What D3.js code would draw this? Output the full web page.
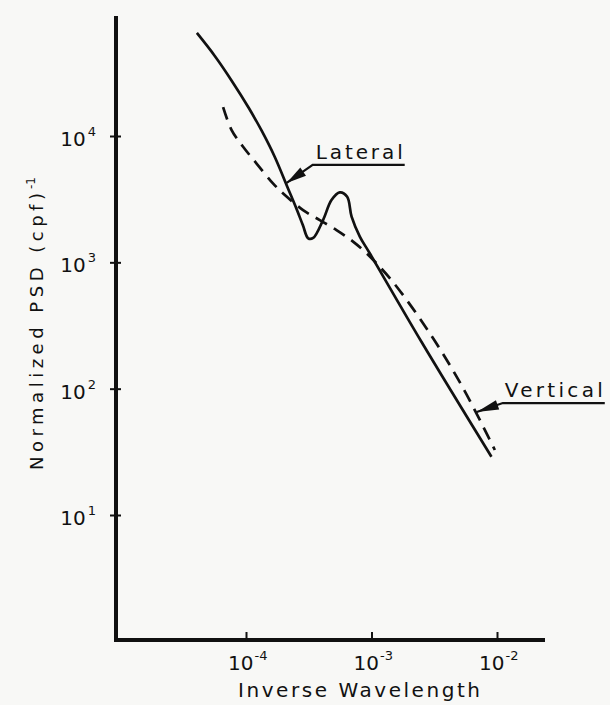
<!DOCTYPE html>
<html>
<head>
<meta charset="utf-8">
<script src="https://cdn.jsdelivr.net/npm/d3@7"></script>
<style>
  html, body { margin: 0; padding: 0; background: #f8f8f6; }
  svg { display: block; }
  text { font-family: "DejaVu Sans", sans-serif; fill: #111; }
</style>
</head>
<body>
<svg id="chart" width="610" height="705"></svg>
<script>
// Lateral spectrum (solid)
const lateralX = [4.06e-5, 5.64e-5, 7.71e-5, 1.053e-4, 1.336e-4, 1.696e-4, 2.153e-4, 2.493e-4, 2.836e-4, 3.13e-4,
                  3.43e-4, 4.11e-4, 4.80e-4, 5.58e-4, 6.40e-4, 6.94e-4, 8.07e-4, 9.68e-4, 2.50e-3, 9.03e-3];
const lateralY = [6.54e4, 4.30e4, 2.73e4, 1.667e4, 1.096e4, 6.82e3, 3.88e3, 2.74e3, 1.974e3, 1.55e3,
                  1.56e3, 2.16e3, 3.11e3, 3.58e3, 3.30e3, 2.30e3, 1.60e3, 1.18e3, 235, 28.9];

// Vertical spectrum (dashed)
const verticalX = [6.57e-5, 7.66e-5, 9.48e-5, 1.21e-4, 1.64e-4, 2.04e-4, 2.85e-4, 3.87e-4, 5.26e-4, 7.13e-4,
                   9.12e-4, 1.44e-3, 2.91e-3, 5.37e-3, 9.61e-3];
const verticalY = [1.69e4, 1.12e4, 8.22e3, 6.08e3, 4.22e3, 3.41e3, 2.59e3, 2.16e3, 1.80e3, 1.46e3,
                   1.18e3, 724, 275, 101, 32.7];

// Axis ticks
const xTickValues = [1e-4, 1e-3, 1e-2];
const xTickExponents = ["-4", "-3", "-2"];
const yTickValues = [1e1, 1e2, 1e3, 1e4];
const yTickExponents = ["1", "2", "3", "4"];

// Titles and series labels
const xTitle = "Inverse Wavelength";
const yTitle = "Normalized PSD (cpf)";
const yTitleExponent = "-1";
const seriesNames = ["Lateral", "Vertical"];
// Points on each curve that the label arrows touch
const lateralPointer = [2.11e-4, 4.25e3];
const verticalPointer = [6.90e-3, 65.3];

const svg = d3.select("#chart");
const ink = "#111";

const x = d3.scaleLog().domain([1e-4, 1e-2]).range([246, 497]);
const y = d3.scaleLog().domain([1e1, 1e4]).range([515, 136]);

const frame = { left: 116, top: 16, bottom: 640, right: 545 };

// Frame (heavy axis lines)
svg.append("path")
  .attr("d", `M${frame.left},${frame.top} L${frame.left},${frame.bottom} L${frame.right},${frame.bottom}`)
  .attr("fill", "none").attr("stroke", ink).attr("stroke-width", 4)
  .attr("stroke-linejoin", "miter");

// Y axis ticks (crossing the axis line)
const yAxis = svg.append("g")
  .attr("transform", `translate(${frame.left},0)`)
  .call(d3.axisLeft(y).tickValues(yTickValues).tickSizeOuter(0).tickSizeInner(6).tickFormat(() => ""));
yAxis.select(".domain").remove();
yAxis.selectAll(".tick line").attr("x1", 5).attr("stroke", ink).attr("stroke-width", 2);

// X axis ticks (pointing up from the axis)
const xAxis = svg.append("g")
  .attr("transform", `translate(0,${frame.bottom})`)
  .call(d3.axisTop(x).tickValues(xTickValues).tickSizeOuter(0).tickSizeInner(8).tickFormat(() => ""));
xAxis.select(".domain").remove();
xAxis.selectAll(".tick line").attr("y2", -8).attr("y1", 1).attr("stroke", ink).attr("stroke-width", 2);

// Y tick labels: 10 with superscript exponent
yTickValues.forEach((v, i) => {
  const t = svg.append("text")
    .attr("x", 96).attr("y", y(v) + 10)
    .attr("text-anchor", "end");
  t.append("tspan").attr("font-size", 20).text("10");
  t.append("tspan").attr("font-size", 13).attr("dx", 2).attr("dy", -10).text(yTickExponents[i]);
});

// X tick labels
xTickValues.forEach((v, i) => {
  const t = svg.append("text")
    .attr("x", x(v) - 18).attr("y", 670);
  t.append("tspan").attr("font-size", 20).text("10");
  t.append("tspan").attr("font-size", 13).attr("dx", 1).attr("dy", -10).text(xTickExponents[i]);
});

// Axis titles
svg.append("text")
  .attr("x", 238).attr("y", 697)
  .attr("font-size", 20)
  .attr("textLength", 242).attr("lengthAdjust", "spacing")
  .text(xTitle);

const yt = svg.append("g").attr("transform", "translate(43,470) rotate(-90)");
yt.append("text")
  .attr("x", 0).attr("y", 0)
  .attr("font-size", 18)
  .attr("textLength", 277).attr("lengthAdjust", "spacing")
  .text(yTitle);
yt.append("text")
  .attr("x", 281).attr("y", -8)
  .attr("font-size", 12)
  .text(yTitleExponent);

// Curves
const line = d3.line()
  .x(d => x(d[0]))
  .y(d => y(d[1]))
  .curve(d3.curveCatmullRom.alpha(0.5));

const lateral = lateralX.map((v, i) => [v, lateralY[i]]);
const vertical = verticalX.map((v, i) => [v, verticalY[i]]);

svg.append("path")
  .attr("d", line(vertical))
  .attr("fill", "none").attr("stroke", ink).attr("stroke-width", 2.7)
  .attr("stroke-dasharray", "13,8");

svg.append("path")
  .attr("d", line(lateral))
  .attr("fill", "none").attr("stroke", ink).attr("stroke-width", 2.7)
  .attr("stroke-linejoin", "round");

// Label with leader line and filled arrowhead
function pointer(dataPt, bend, end, textOff, label, textLen, headLen) {
  const tx = x(dataPt[0]), ty = y(dataPt[1]);
  const bx = tx + bend[0], by = ty + bend[1];
  const ex = tx + end[0], ey = ty + end[1];
  svg.append("path")
    .attr("d", `M${ex},${ey} L${bx},${by} L${tx},${ty}`)
    .attr("fill", "none").attr("stroke", ink).attr("stroke-width", 2.2);
  const ang = Math.atan2(ty - by, tx - bx);
  const hw = 5;
  const baseX = tx - headLen * Math.cos(ang), baseY = ty - headLen * Math.sin(ang);
  const px = -Math.sin(ang) * hw, py = Math.cos(ang) * hw;
  svg.append("path")
    .attr("d", `M${tx},${ty} L${baseX + px},${baseY + py} L${baseX - px},${baseY - py} Z`)
    .attr("fill", ink);
  svg.append("text")
    .attr("x", tx + textOff[0]).attr("y", ty + textOff[1])
    .attr("font-size", 20)
    .attr("textLength", textLen).attr("lengthAdjust", "spacing")
    .text(label);
}

pointer(lateralPointer, [26, -18], [118, -18], [29, -24], seriesNames[0], 87, 20);
pointer(verticalPointer, [26, -9], [128, -9], [28, -15], seriesNames[1], 98, 22);
</script>
</body>
</html>
